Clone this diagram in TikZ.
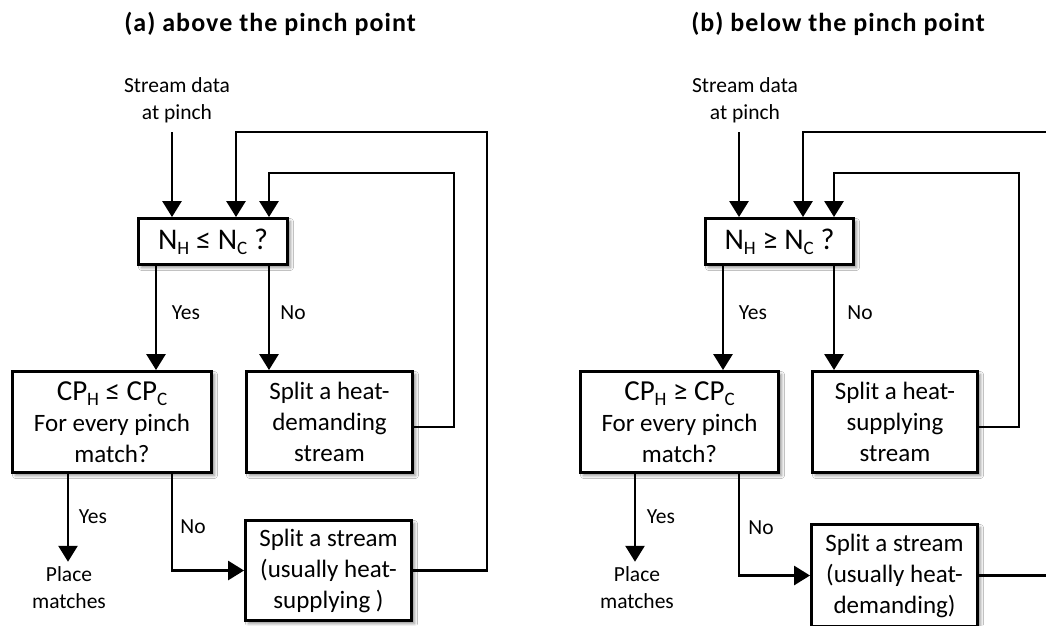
\documentclass[tikz,border=0pt]{standalone}
\usepackage{fontspec}
\setmainfont{Carlito}
\usetikzlibrary{arrows.meta,shadows.blur,calc}
\newcommand\lowsub[1]{\raisebox{-0.35ex}{\fontsize{19}{19}\selectfont #1}}
\begin{document}
\begin{tikzpicture}[x=1pt,y=-1pt,
  box/.style={draw, line width=2.9pt, fill=white, align=center, inner sep=0pt,
    blur shadow={shadow xshift=3pt, shadow yshift=-3pt, shadow blur radius=3pt, shadow opacity=45},
    font=\fontsize{25}{31}\selectfont},
  flow/.style={line width=2.8pt, -{Triangle[width=19pt,length=16pt]}},
  lbl/.style={font=\fontsize{21.5}{27}\selectfont, align=center, inner sep=0pt},
  ttl/.style={font=\bfseries\fontsize{26}{28}\selectfont\addfontfeatures{LetterSpace=4}, inner sep=0pt}]
\clip (0,0) rectangle (1046,625);
\fill[white] (0,0) rectangle (1046,625);

% ---------- (a) above the pinch point ----------
\node[ttl] (tA) at (270,24) {(a) above the pinch point};
\node[lbl] (sdA) at (177,100) {Stream data\\at pinch};
\node[box, minimum width=149pt, minimum height=46pt] (b1A) at (213,241.5)
  {\fontsize{30}{31}\selectfont N\lowsub{H} ≤ N\lowsub{C} ?};
\node[box, minimum width=199pt, minimum height=101pt] (b2A) at (112,422)
  {{\fontsize{29}{31}\selectfont CP\lowsub{H} ≤ CP\lowsub{C}}\\For every pinch\\match?};
\node[box, minimum width=166pt, minimum height=101pt] (b3A) at (329.5,422)
  {Split a heat-\\demanding\\stream};
\node[box, minimum width=166pt, minimum height=100pt] (b4A) at (328.5,570.5)
  {Split a stream\\(usually heat-\\supplying )};
\node[lbl, inner ysep=5pt] (pmA) at (69,588) {Place\\matches};

\coordinate (inA) at (172,132);
\coordinate (yA) at (156,0);
\coordinate (topA) at (236,132);
\coordinate (ctA) at (487,132);
\coordinate (midA) at (269,173);
\coordinate (cmA) at (454,173);
\coordinate (pA) at (68,0);

\draw[flow] (inA) -- (inA |- b1A.north);
\draw[flow] (b4A.east) -| (ctA) -- (topA) -- (topA |- b1A.north);
\draw[flow] ($(b3A.east)+(0,5)$) -| (cmA) -- (midA) -- (midA |- b1A.north);
\draw[flow] (b1A.south -| yA) -- (b2A.north -| yA);
\draw[flow] (b1A.south -| midA) -- (b3A.north -| midA);
\draw[flow] (b2A.south -| pA) -- (pmA.north -| pA);
\draw[flow] (b2A.south -| inA) |- (b4A.west);

\node[lbl] at (186,313) {Yes};
\node[lbl] at (293,313) {No};
\node[lbl] at (93,517) {Yes};
\node[lbl] at (193,527) {No};

% ---------- (b) below the pinch point ----------
\node[ttl] (tB) at (838,24) {(b) below the pinch point};
\node[lbl] (sdB) at (745,100) {Stream data\\at pinch};
\node[box, minimum width=148pt, minimum height=46pt] (b1B) at (779.5,241.5)
  {\fontsize{30}{31}\selectfont N\lowsub{H} ≥ N\lowsub{C} ?};
\node[box, minimum width=198pt, minimum height=101pt] (b2B) at (679.5,422)
  {{\fontsize{29}{31}\selectfont CP\lowsub{H} ≥ CP\lowsub{C}}\\For every pinch\\match?};
\node[box, minimum width=165pt, minimum height=101pt] (b3B) at (895,422)
  {Split a heat-\\supplying\\stream};
\node[box, minimum width=166pt, minimum height=102pt] (b4B) at (894.5,575.5)
  {Split a stream\\(usually heat-\\demanding)};
\node[lbl, inner ysep=5pt] (pmB) at (637,588) {Place\\matches};

\coordinate (inB) at (739,132);
\coordinate (yB) at (723,0);
\coordinate (topB) at (803,132);
\coordinate (ctB) at (1060,132);
\coordinate (midB) at (834,173);
\coordinate (cmB) at (1019,173);
\coordinate (pB) at (635,0);

\draw[flow] (inB) -- (inB |- b1B.north);
\draw[flow] (b4B.east) -| (ctB) -- (topB) -- (topB |- b1B.north);
\draw[flow] ($(b3B.east)+(0,5)$) -| (cmB) -- (midB) -- (midB |- b1B.north);
\draw[flow] (b1B.south -| yB) -- (b2B.north -| yB);
\draw[flow] (b1B.south -| midB) -- (b3B.north -| midB);
\draw[flow] (b2B.south -| pB) -- (pmB.north -| pB);
\draw[flow] (b2B.south -| inB) |- (b4B.west);

\node[lbl] at (753,313) {Yes};
\node[lbl] at (860,313) {No};
\node[lbl] at (661,517) {Yes};
\node[lbl] at (761,528) {No};
\end{tikzpicture}
\end{document}
